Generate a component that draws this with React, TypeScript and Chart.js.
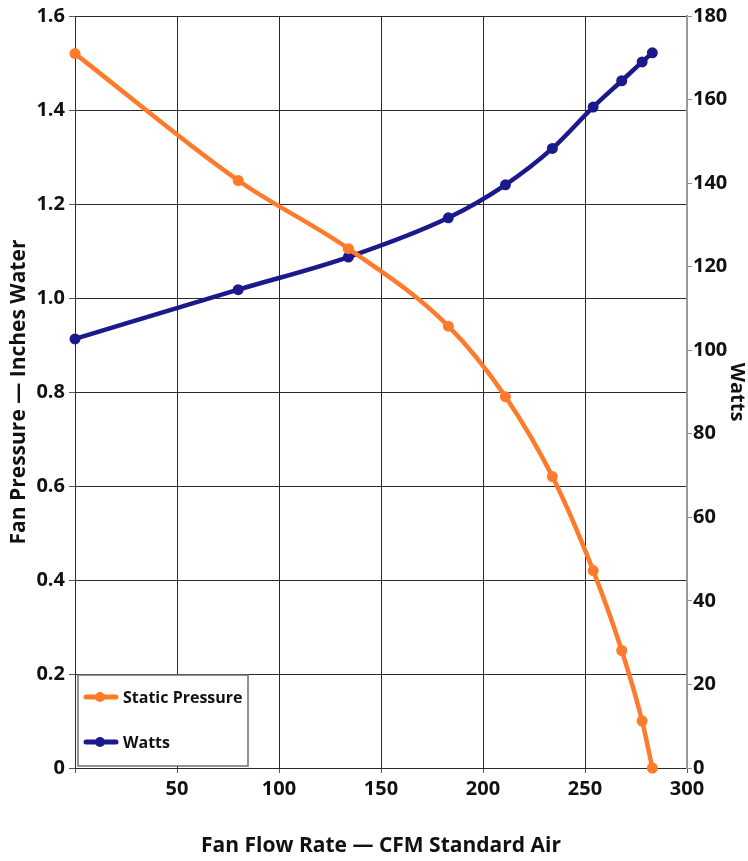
import React, { useEffect, useRef } from "react";
import { Chart, registerables } from "chart.js";

Chart.register(...registerables);

const flowRate = [0, 80, 134, 183, 211, 234, 254, 268, 278, 283];
const staticPressure = [1.52, 1.25, 1.105, 0.94, 0.79, 0.62, 0.42, 0.25, 0.1, 0];
const watts = [102.7, 114.5, 122.3, 131.7, 139.6, 148.3, 158.2, 164.5, 169, 171.2];

const xTicks = [0, 50, 100, 150, 200, 250, 300];
const pressureTicks = [0, 0.2, 0.4, 0.6, 0.8, 1.0, 1.2, 1.4, 1.6];
const wattTicks = [0, 20, 40, 60, 80, 100, 120, 140, 160, 180];

const ORANGE = "#ff7a2a";
const NAVY = "#1a1a8c";
const FONT = "'Open Sans', 'Noto Sans', sans-serif";

const insideLegend = {
  id: "insideLegend",
  afterDraw(chart: any) {
    const { ctx, chartArea } = chart;
    const bx = chartArea.left + 3;
    const bw = 170;
    const bh = 91;
    const by = chartArea.bottom - 2 - bh;
    ctx.save();
    ctx.fillStyle = "#ffffff";
    ctx.fillRect(bx, by, bw, bh);
    ctx.strokeStyle = "#6e6e6e";
    ctx.lineWidth = 1.5;
    ctx.strokeRect(bx, by, bw, bh);
    const rows = [by + 22, by + 67];
    chart.data.datasets.forEach((ds: any, i: number) => {
      const y = rows[i];
      ctx.strokeStyle = ds.borderColor;
      ctx.lineWidth = 5;
      ctx.lineCap = "round";
      ctx.beginPath();
      ctx.moveTo(bx + 8, y);
      ctx.lineTo(bx + 38, y);
      ctx.stroke();
      ctx.fillStyle = ds.borderColor;
      ctx.beginPath();
      ctx.arc(bx + 22, y, 5, 0, Math.PI * 2);
      ctx.fill();
      ctx.fillStyle = "#111111";
      ctx.font = `bold 16px ${FONT}`;
      ctx.textBaseline = "middle";
      ctx.textAlign = "left";
      ctx.fillText(ds.label, bx + 45, y + 1);
    });
    ctx.restore();
  },
};

export default function App() {
  const canvasRef = useRef<HTMLCanvasElement | null>(null);

  useEffect(() => {
    if (!canvasRef.current) return;
    const chart = new Chart(canvasRef.current, {
      type: "line",
      data: {
        datasets: [
          {
            label: "Static Pressure",
            data: flowRate.map((x, i) => ({ x, y: staticPressure[i] })),
            borderColor: ORANGE,
            backgroundColor: ORANGE,
            borderWidth: 4.5,
            pointRadius: 5.5,
            pointBackgroundColor: ORANGE,
            pointBorderWidth: 0,
            cubicInterpolationMode: "monotone",
            clip: false,
            yAxisID: "y",
          },
          {
            label: "Watts",
            data: flowRate.map((x, i) => ({ x, y: watts[i] })),
            borderColor: NAVY,
            backgroundColor: NAVY,
            borderWidth: 4.5,
            pointRadius: 5.5,
            pointBackgroundColor: NAVY,
            pointBorderWidth: 0,
            cubicInterpolationMode: "monotone",
            clip: false,
            yAxisID: "y1",
          },
        ],
      },
      options: {
        animation: false,
        responsive: true,
        maintainAspectRatio: false,
        layout: { padding: { top: 15, left: 0, right: 0, bottom: 0 } },
        plugins: {
          legend: { display: false },
          tooltip: { enabled: false },
        },
        scales: {
          x: {
            type: "linear",
            min: 0,
            max: 300,
            afterBuildTicks: (scale: any) => {
              scale.ticks = xTicks.map((v) => ({ value: v }));
            },
            afterFit: (scale: any) => {
              scale.height = 93;
            },
            ticks: {
              color: "#111",
              font: { family: FONT, size: 20, weight: "bold" },
              padding: 4,
              maxRotation: 0,
              callback: (v: any) => (v === 0 ? "" : String(v)),
            },
            grid: { color: "#2a2a2a", lineWidth: 1, tickLength: 5, tickColor: "#555" },
            border: { color: "#2a2a2a", width: 1 },
            title: {
              display: true,
              text: "Fan Flow Rate — CFM Standard Air",
              color: "#111",
              font: { family: FONT, size: 21, weight: "bold" },
              padding: { top: 0, bottom: 2 },
            },
          },
          y: {
            type: "linear",
            position: "left",
            min: 0,
            max: 1.6,
            afterBuildTicks: (scale: any) => {
              scale.ticks = pressureTicks.map((v) => ({ value: v }));
            },
            afterFit: (scale: any) => {
              scale.width = 75;
            },
            ticks: {
              color: "#111",
              font: { family: FONT, size: 20, weight: "bold" },
              padding: 4,
              callback: (v: any) => (v === 0 ? "0" : Number(v).toFixed(1)),
            },
            grid: { color: "#2a2a2a", lineWidth: 1, tickLength: 6, tickColor: "#555" },
            border: { color: "#2a2a2a", width: 1 },
            title: {
              display: true,
              text: "Fan Pressure — Inches Water",
              color: "#111",
              font: { family: FONT, size: 21, weight: "bold" },
              padding: { top: 6, bottom: 0 },
            },
          },
          y1: {
            type: "linear",
            position: "right",
            min: 0,
            max: 180,
            afterBuildTicks: (scale: any) => {
              scale.ticks = wattTicks.map((v) => ({ value: v }));
            },
            afterFit: (scale: any) => {
              scale.width = 61;
            },
            ticks: {
              color: "#111",
              font: { family: FONT, size: 20, weight: "bold" },
              padding: 1,
            },
            grid: { drawOnChartArea: false, color: "#8a8a8a", tickLength: 5 },
            border: { color: "#9a9a9a", width: 2 },
            title: {
              display: true,
              text: "Watts",
              color: "#111",
              font: { family: FONT, size: 20, weight: "bold" },
              padding: { top: -1, bottom: 0 },
            },
          },
        },
      } as any,
      plugins: [insideLegend],
    });
    return () => chart.destroy();
  }, []);

  return (
    <div style={{ position: "absolute", left: 0, top: 0, width: 748, height: 861, background: "#fff" }}>
      <canvas ref={canvasRef} />
    </div>
  );
}
